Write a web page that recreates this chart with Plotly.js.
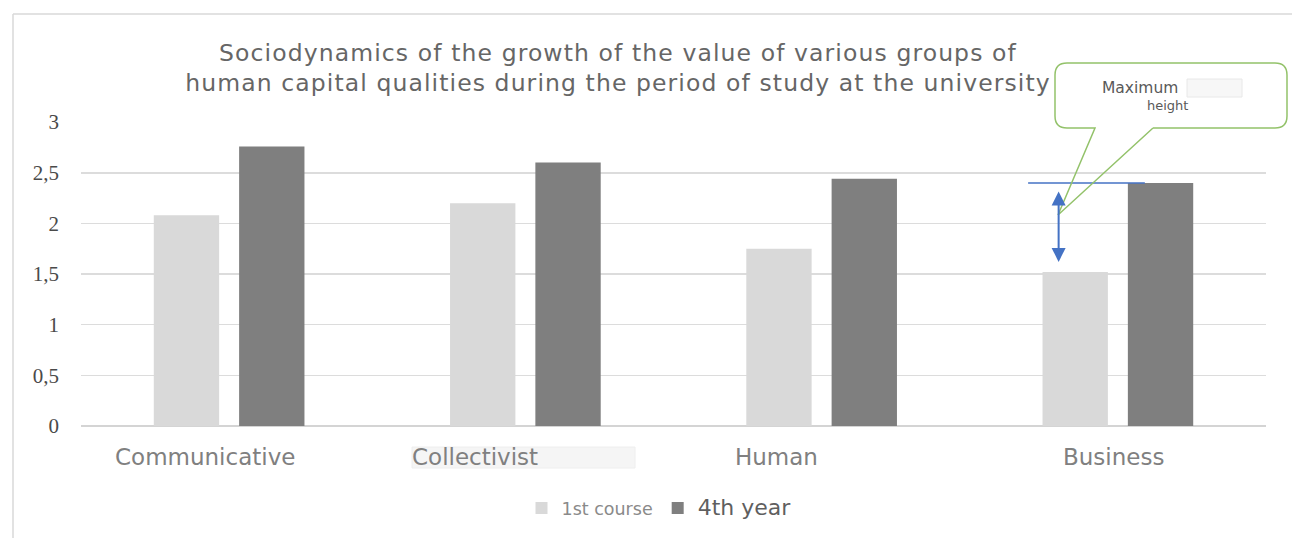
<!DOCTYPE html>
<html>
<head>
<meta charset="utf-8">
<script src="https://cdn.plot.ly/plotly-3.0.1.min.js"></script>
<style>
  html, body { margin: 0; padding: 0; background: #ffffff; }
  #chart { width: 1292px; height: 538px; }
  /* slightly wider tracking for the chart title and axis captions */
  #chart .gtitle { letter-spacing: 1.1px; }
  #chart .annotation-text.catlabel { letter-spacing: 0.6px; }
</style>
</head>
<body>
<div id="chart"></div>
<script>
// Groups of human capital qualities
const categories = ['Communicative', 'Collectivist', 'Human', 'Business'];
// Average value by year of study
const firstCourse = [2.08, 2.20, 1.75, 1.52];
const fourthYear = [2.76, 2.60, 2.44, 2.40];
const seriesNames = ['1st course', '4th year'];
// Y axis ticks (comma decimal separator)
const yTicks = [0, 0.5, 1, 1.5, 2, 2.5, 3];

// Plot frame in pixels
const M = { l: 81, r: 26, t: 122, b: 112 };
const W = 1292, H = 538;
const plotW = W - M.l - M.r, plotH = H - M.t - M.b;
const px = p => (p - M.l) / plotW;          // pixel x -> paper x
const py = p => (H - M.b - p) / plotH;      // pixel y -> paper y

const sans = 'DejaVu Sans, Liberation Sans, Arial, sans-serif';

const traces = [
  { type: 'bar', x: categories, y: firstCourse, name: seriesNames[0],
    marker: { color: '#d9d9d9' }, hoverinfo: 'x+y' },
  { type: 'bar', x: categories, y: fourthYear,
    name: '<span style="font-size:22px;fill:#5f5f5f">' + seriesNames[1] + '</span>',
    marker: { color: '#7f7f7f' }, hoverinfo: 'x+y' }
];

// Category labels drawn under the axis, each nudged as in the layout
const labelShift = [-24, -50, -45, -4];
const labelAnnotations = categories.map((c, i) => ({
  x: c, xref: 'x', y: 0, yref: 'paper', yanchor: 'middle', xanchor: 'center',
  yshift: -31, xshift: labelShift[i], showarrow: false, text: c,
  font: { family: sans, size: 23, color: '#808080' }
}));

// Callout box geometry (pixels)
const bx0 = 1055, bx1 = 1287, by0 = 63, by1 = 128, rr = 12;
const tipX = 1058, tipY = 215, baseA = 1095, baseB = 1153;
const P = (x, y) => px(x).toFixed(5) + ',' + py(y).toFixed(5);
const boxFill = 'M' + P(bx0 + rr, by0) + ' L' + P(bx1 - rr, by0) +
  ' Q' + P(bx1, by0) + ' ' + P(bx1, by0 + rr) + ' L' + P(bx1, by1 - rr) +
  ' Q' + P(bx1, by1) + ' ' + P(bx1 - rr, by1) + ' L' + P(bx0 + rr, by1) +
  ' Q' + P(bx0, by1) + ' ' + P(bx0, by1 - rr) + ' L' + P(bx0, by0 + rr) +
  ' Q' + P(bx0, by0) + ' ' + P(bx0 + rr, by0) + ' Z';
const boxOutline = 'M' + P(baseB, by1) + ' L' + P(bx1 - rr, by1) +
  ' Q' + P(bx1, by1) + ' ' + P(bx1, by1 - rr) + ' L' + P(bx1, by0 + rr) +
  ' Q' + P(bx1, by0) + ' ' + P(bx1 - rr, by0) + ' L' + P(bx0 + rr, by0) +
  ' Q' + P(bx0, by0) + ' ' + P(bx0, by0 + rr) + ' L' + P(bx0, by1 - rr) +
  ' Q' + P(bx0, by1) + ' ' + P(bx0 + rr, by1) + ' L' + P(baseA, by1) +
  ' L' + P(tipX, tipY) + ' L' + P(baseB, by1);

const biz = 3;            // index of the Business group
const arrowX = biz - 0.2; // double arrow beside the 1st-course bar

const shapes = [
  // outer chart frame (left and top edges)
  { type: 'line', xref: 'paper', yref: 'paper', x0: px(13), x1: px(13), y0: py(14), y1: py(545),
    line: { color: '#d9d9d9', width: 1.5 }, layer: 'below' },
  { type: 'line', xref: 'paper', yref: 'paper', x0: px(13), x1: px(1300), y0: py(14), y1: py(14),
    line: { color: '#d9d9d9', width: 1.5 }, layer: 'below' },
  // faint box behind the Collectivist label
  { type: 'rect', xref: 'paper', yref: 'paper', x0: px(412), x1: px(635), y0: py(447), y1: py(468),
    fillcolor: '#f5f5f5', line: { color: '#eeeeee', width: 1 }, layer: 'below' },
  // maximum-height marker at the 4th-year Business value
  { type: 'line', xref: 'x', yref: 'y', x0: biz - 0.303, x1: biz + 0.091,
    y0: fourthYear[biz], y1: fourthYear[biz],
    line: { color: '#4472c4', width: 1.5 }, layer: 'above' },
  // callout
  { type: 'path', xref: 'paper', yref: 'paper', path: boxFill,
    fillcolor: '#ffffff', line: { width: 0 }, layer: 'above' },
  { type: 'path', xref: 'paper', yref: 'paper', path: boxOutline,
    fillcolor: 'rgba(0,0,0,0)', line: { color: '#93c26a', width: 1.5 }, layer: 'above' },
  { type: 'rect', xref: 'paper', yref: 'paper', x0: px(1187), x1: px(1242), y0: py(79), y1: py(97),
    fillcolor: '#f7f7f7', line: { color: '#e8e8e8', width: 1 }, layer: 'above' }
];

const annotations = labelAnnotations.concat([
  // double-headed arrow between the two Business values
  { x: arrowX, y: firstCourse[biz] + 0.1, xref: 'x', yref: 'y',
    ax: arrowX, ay: fourthYear[biz] - 0.07, axref: 'x', ayref: 'y',
    showarrow: true, text: '', arrowhead: 2, startarrowhead: 2, arrowside: 'end+start',
    arrowsize: 1.4, startarrowsize: 1.4, arrowwidth: 2, arrowcolor: '#4472c4' },
  { x: px(1140), y: py(87.5), xref: 'paper', yref: 'paper', xanchor: 'center', yanchor: 'middle',
    showarrow: false, text: 'Maximum', font: { family: sans, size: 15.5, color: '#595959' } },
  { x: px(1167), y: py(105.5), xref: 'paper', yref: 'paper', xanchor: 'center', yanchor: 'middle',
    showarrow: false, text: 'height', font: { family: sans, size: 13, color: '#595959' } }
]);

const layout = {
  width: W, height: H,
  margin: M,
  paper_bgcolor: '#ffffff', plot_bgcolor: '#ffffff',
  separators: ', ',
  showlegend: true,
  barmode: 'group',
  bargap: 0.424,
  bargroupgap: 0.234,
  title: {
    text: 'Sociodynamics of the growth of the value of various groups of<br>human capital qualities during the period of study at the university',
    x: 618 / W, xref: 'container', xanchor: 'center',
    y: 1 - 60.5 / H, yref: 'container', yanchor: 'middle',
    font: { family: sans, size: 23.5, color: '#666666' }
  },
  xaxis: {
    type: 'category', showticklabels: false, showgrid: false,
    showline: false, zeroline: false, ticks: '', fixedrange: true
  },
  yaxis: {
    range: [0, 3.001], tickvals: yTicks, ticks: '',
    showgrid: true, gridcolor: '#dcdcdc', gridwidth: 1.5,
    zeroline: true, zerolinecolor: '#d4d4d4', zerolinewidth: 1.5,
    showline: false, ticklabelstandoff: 21,
    tickfont: { family: 'Liberation Serif, DejaVu Serif, serif', size: 21, color: '#4a4a4a' },
    fixedrange: true
  },
  legend: {
    orientation: 'h', x: px(659), xanchor: 'center', y: py(508), yanchor: 'middle',
    font: { family: sans, size: 17.5, color: '#8a8a8a' },
    itemclick: false, itemdoubleclick: false, traceorder: 'normal'
  },
  shapes: shapes,
  annotations: annotations
};

Plotly.newPlot('chart', traces, layout, { displayModeBar: false, staticPlot: true });
</script>
</body>
</html>
